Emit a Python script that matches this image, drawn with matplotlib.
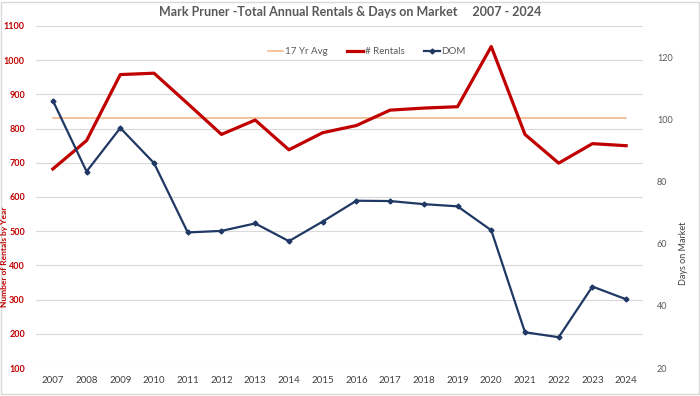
import matplotlib
matplotlib.use("Agg")
import matplotlib.pyplot as plt
from matplotlib.patches import Rectangle

# values
years = ["2007", "2008", "2009", "2010", "2011", "2012", "2013", "2014", "2015",
         "2016", "2017", "2018", "2019", "2020", "2021", "2022", "2023", "2024"]
rentals = [682, 765, 958, 962, 873, 783, 825, 738, 788,
           809, 854, 860, 864, 1040, 783, 699, 756, 750]
dom = [106, 83.2, 97.2, 85.9, 63.6, 64.1, 66.5, 60.8, 67.1,
       73.8, 73.7, 72.7, 72.0, 64.3, 31.5, 29.9, 46.2, 42.1]
avg_17yr = [830] * len(years)

left_ticks = [100, 200, 300, 400, 500, 600, 700, 800, 900, 1000, 1100]
right_ticks = [20, 40, 60, 80, 100, 120]

RED = "#C00000"
NAVY = "#1F3864"
PEACH = "#F4B183"
GREY = "#595959"

plt.rcParams['font.family'] = ['Lato', 'DejaVu Sans']

fig = plt.figure(figsize=(7, 3.96), dpi=100)
ax1 = fig.add_axes([36/700, 1 - 368/396, 607/700, 342/396])
ax2 = ax1.twinx()

x = list(range(len(years)))

l_avg, = ax1.plot(x, avg_17yr, color=PEACH, lw=1.1, label="17 Yr Avg", zorder=2)
l_rent, = ax1.plot(x, rentals, color=RED, lw=2.3, label="# Rentals", zorder=3)
l_dom, = ax2.plot(x, dom, color=NAVY, lw=1.6, marker="D", ms=2.5,
                  label="DOM", zorder=3)

ax1.set_xlim(-0.5, len(years) - 0.5)
ax1.set_ylim(100, 1100)
ax1.set_yticks(left_ticks)
ax2.set_ylim(20, 130)
ax2.set_yticks(right_ticks)

ax1.set_xticks(x)
ax1.set_xticklabels(years, fontsize=7, color="#404040")

ax1.grid(axis="y", color="#D9D9D9", lw=0.8, zorder=0)
ax1.set_axisbelow(True)
for ax in (ax1, ax2):
    for s in ax.spines.values():
        s.set_visible(False)
    ax.tick_params(length=0)

for t in ax1.get_yticklabels():
    t.set_color(RED)
    t.set_fontweight("bold")
    t.set_fontsize(6.5)
ax1.tick_params(axis="y", pad=8)
ax1.tick_params(axis="x", pad=6)
for t in ax2.get_yticklabels():
    t.set_color(GREY)
    t.set_fontsize(6.5)
ax2.tick_params(axis="y", pad=10)

# axis titles sit a little below the middle in the original
fig.text(5/700, 1 - 257/396, "Number of Rentals by Year", rotation=90,
         ha="center", va="center", color=RED, fontsize=6, fontweight="bold")
fig.text(683/700, 1 - 253/396, "Days on Market", rotation=90,
         ha="center", va="center", color="#404040", fontsize=6.5)

fig.text(0.5, 1 - 12/396, "Mark Pruner -Total Annual Rentals & Days on Market     2007 - 2024",
         ha="center", va="center", fontsize=9, fontweight="bold", color=GREY)

leg = ax2.legend(handles=[l_avg, l_rent, l_dom], loc="center",
                 bbox_to_anchor=(0.545, 0.924), ncol=3, frameon=False,
                 fontsize=7, handlelength=1.6, handletextpad=0.2,
                 columnspacing=2.0)
for t in leg.get_texts():
    t.set_color(GREY)

fig.patches.append(Rectangle((0.002, 0.004), 0.996, 0.992, transform=fig.transFigure,
                             fill=False, edgecolor="#D9D9D9", lw=1))

fig.savefig("out.png", dpi=100)
